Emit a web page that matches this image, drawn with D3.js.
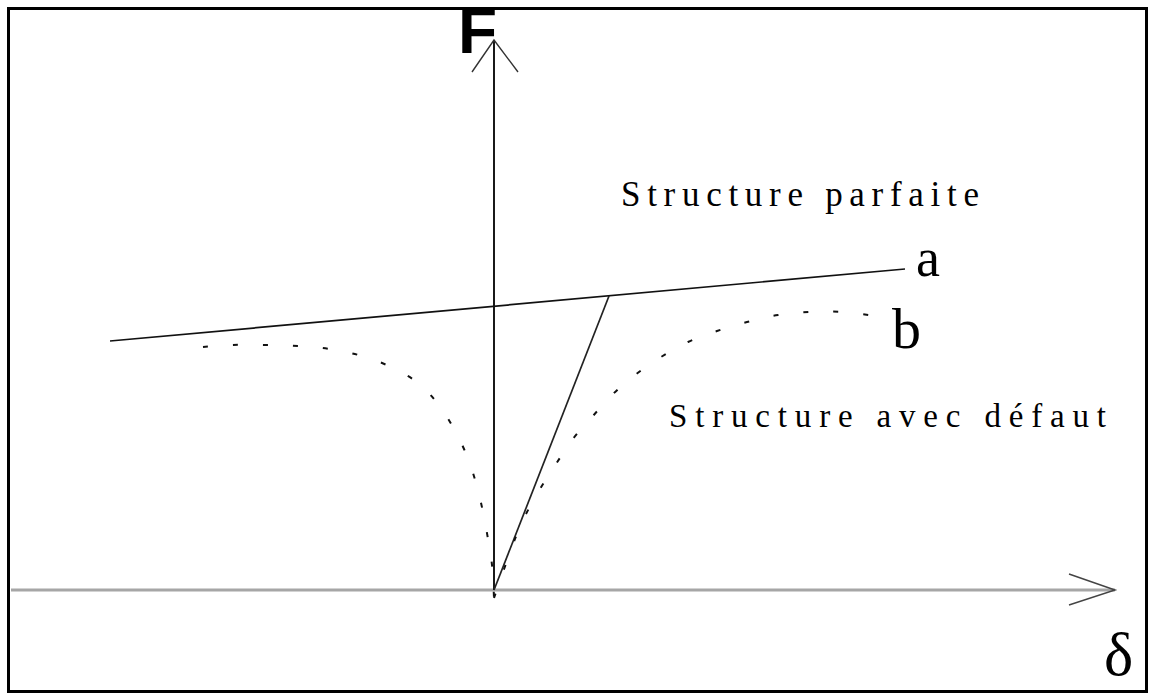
<!DOCTYPE html>
<html>
<head>
<meta charset="utf-8">
<script src="https://cdn.jsdelivr.net/npm/d3@7"></script>
<style>
  body { margin: 0; background: #fff; }
  svg { display: block; }
</style>
</head>
<body>
<div id="container"></div>
<script>
/* CONSTANTS AND GLOBALS */
const width = 1150,
  height = 693;

/* DATA (delta, F) in arbitrary units, origin at (0,0) */
// a : perfect structure, straight line
const lineA = [[-3.84, 2.49], [4.11, 3.21]];
// linear elastic part, from origin to line a
const elastic = [[0, 0], [1.15, 2.94]];
// b : structure with defect, left branch
const curveBLeft = [
  [-2.91, 2.43], [-2.61, 2.45], [-2.28, 2.45], [-1.96, 2.44], [-1.64, 2.41],
  [-1.32, 2.34], [-1.03, 2.23], [-0.76, 2.07], [-0.56, 1.86], [-0.40, 1.61],
  [-0.27, 1.34], [-0.18, 1.07], [-0.11, 0.78], [-0.06, 0.51], [-0.02, 0.25],
  [0, -0.08]
];
// b : structure with defect, right branch
const curveBRight = [
  [0, -0.08], [0.21, 0.51], [0.31, 0.74], [0.46, 1.01], [0.62, 1.26],
  [0.78, 1.50], [0.98, 1.73], [1.19, 1.96], [1.41, 2.15], [1.67, 2.33],
  [1.94, 2.48], [2.23, 2.59], [2.53, 2.68], [2.84, 2.75], [3.16, 2.78],
  [3.48, 2.78], [3.88, 2.73]
];
const axisLabels = ["F", "\u03b4"];
const curveLabels = ["a", "b"];
const regionLabels = ["Structure parfaite", "Structure avec d\u00e9faut"];

/* SCALES */
const xScale = d3.scaleLinear()
  .domain([-4.83, 6.21])
  .range([11, 1115]);

const yScale = d3.scaleLinear()
  .domain([0, 5.5])
  .range([590, 40]);

const line = d3.line()
  .x(d => xScale(d[0]))
  .y(d => yScale(d[1]));

const smooth = d3.line()
  .x(d => xScale(d[0]))
  .y(d => yScale(d[1]))
  .curve(d3.curveCatmullRom.alpha(0.5));

/* HTML ELEMENTS */
const svg = d3.select("#container")
  .append("svg")
  .attr("width", width)
  .attr("height", height);

svg.append("rect")
  .attr("width", width)
  .attr("height", height)
  .attr("fill", "#fff");

// F label (top partly under the frame)
svg.append("text")
  .attr("x", 458)
  .attr("y", 53)
  .attr("font-family", "Liberation Sans, Arial, sans-serif")
  .attr("font-weight", "bold")
  .attr("font-size", 64)
  .attr("fill", "#000")
  .text(axisLabels[0]);

// horizontal axis (delta)
const x0 = xScale.domain()[0], x1 = xScale.domain()[1];
svg.append("path")
  .attr("d", line([[x0, 0], [x1, 0]]))
  .attr("stroke", "#a6a6a6")
  .attr("stroke-width", 3)
  .attr("fill", "none");

svg.append("path")
  .attr("d", line([[x1 - 0.46, 0.16], [x1, 0], [x1 - 0.46, -0.15]]))
  .attr("stroke", "#444")
  .attr("stroke-width", 1.5)
  .attr("fill", "none");

// vertical axis (F)
const yTop = yScale.domain()[1];
svg.append("path")
  .attr("d", line([[0, 0], [0, yTop]]))
  .attr("stroke", "#000")
  .attr("stroke-width", 1.8)
  .attr("fill", "none");

svg.append("path")
  .attr("d", line([[-0.22, yTop - 0.32], [0, yTop], [0.24, yTop - 0.32]]))
  .attr("stroke", "#333")
  .attr("stroke-width", 1.4)
  .attr("fill", "none");

// curve a
svg.append("path")
  .attr("d", line(lineA))
  .attr("stroke", "#111")
  .attr("stroke-width", 1.7)
  .attr("fill", "none");

// elastic line
svg.append("path")
  .attr("d", line(elastic))
  .attr("stroke", "#222")
  .attr("stroke-width", 1.7)
  .attr("fill", "none");

// curve b (dotted)
[curveBLeft, curveBRight].forEach(pts => {
  svg.append("path")
    .attr("d", smooth(pts))
    .attr("stroke", "#111")
    .attr("stroke-width", 2)
    .attr("stroke-dasharray", "5 25")
    .attr("fill", "none");
});

// labels a, b
svg.append("text")
  .attr("x", 916)
  .attr("y", 276)
  .attr("font-family", "Liberation Serif, Times New Roman, serif")
  .attr("font-size", 54)
  .attr("fill", "#000")
  .text(curveLabels[0]);

svg.append("text")
  .attr("x", 892)
  .attr("y", 348)
  .attr("font-family", "Liberation Serif, Times New Roman, serif")
  .attr("font-size", 58)
  .attr("fill", "#000")
  .text(curveLabels[1]);

// region labels
svg.append("text")
  .attr("x", 621)
  .attr("y", 206)
  .attr("font-family", "Liberation Serif, Times New Roman, serif")
  .attr("font-size", 35)
  .attr("textLength", 358)
  .attr("lengthAdjust", "spacing")
  .attr("fill", "#000")
  .text(regionLabels[0]);

svg.append("text")
  .attr("x", 669)
  .attr("y", 427)
  .attr("font-family", "Liberation Serif, Times New Roman, serif")
  .attr("font-size", 33)
  .attr("textLength", 437)
  .attr("lengthAdjust", "spacing")
  .attr("fill", "#000")
  .text(regionLabels[1]);

// delta label
svg.append("text")
  .attr("x", 1104)
  .attr("y", 675)
  .attr("font-family", "Liberation Serif, Times New Roman, serif")
  .attr("font-size", 62)
  .attr("fill", "#000")
  .text(axisLabels[1]);

// frame
svg.append("rect")
  .attr("x", 8.5)
  .attr("y", 8.5)
  .attr("width", 1138)
  .attr("height", 683)
  .attr("stroke", "#000")
  .attr("stroke-width", 3)
  .attr("fill", "none");
</script>
</body>
</html>
